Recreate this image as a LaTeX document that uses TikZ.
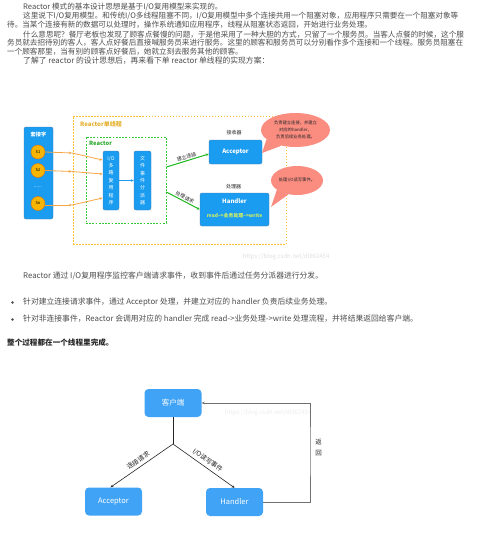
\documentclass[tikz,border=0pt]{standalone}
\usepackage{fontspec}
\setmainfont{Noto Sans CJK SC}
\usetikzlibrary{arrows.meta,shapes.geometric}

\definecolor{bodytext}{HTML}{4D4D4D}
\definecolor{boxblue}{HTML}{1A9CF0}
\definecolor{boxedge}{HTML}{4A7FAE}
\definecolor{sockorange}{HTML}{F7B500}
\definecolor{linkorange}{HTML}{F7A543}
\definecolor{frameorange}{HTML}{FFC233}
\definecolor{framegreen}{HTML}{33C633}
\definecolor{arrowgreen}{HTML}{1DB81D}
\definecolor{bubble}{HTML}{FA8C80}
\definecolor{lightblue}{HTML}{40A3F5}
\definecolor{readgreen}{HTML}{D2F064}
\definecolor{retgray}{HTML}{707070}

\begin{document}
\begin{tikzpicture}[x=1pt,y=-1pt,>={Stealth[length=3pt,width=2.6pt]},
	para/.style={anchor=west,inner sep=0pt,text=bodytext,font=\fontsize{7.6}{9}\selectfont},
	bigpara/.style={para,font=\fontsize{7.8}{9}\selectfont},
	listdot/.style={circle,fill=bodytext,minimum size=2.6pt,inner sep=0pt},
	diagbox/.style={draw=boxedge,fill=boxblue,rounded corners=2pt,text=white,inner sep=0pt},
	sockball/.style={circle,draw=orange!90!black,fill=sockorange,minimum size=14pt,inner sep=0pt,font=\fontsize{4}{4}\selectfont},
	orangelink/.style={->,linkorange,line width=0.8pt},
	greenlink/.style={->,arrowgreen,line width=1pt},
	tagtext/.style={inner sep=1pt,font=\fontsize{5}{6}\selectfont,text=black!85},
	talk/.style={ellipse,fill=bubble,inner sep=0pt,align=center,font=\fontsize{4.3}{7}\selectfont,text=black!85},
	flowbox/.style={fill=lightblue,rounded corners=4pt,text=white,inner sep=0pt,minimum width=57pt,minimum height=28pt,font=\fontsize{7.5}{8}\selectfont},
	flowlink/.style={->,black!85,line width=0.6pt},
	flowtext/.style={inner sep=3pt,font=\fontsize{6.5}{7}\selectfont,text=black!85}]
	\useasboundingbox[fill=white] (0,0) rectangle (500,533);

	% article text
	\node[para] (p1) at (23,7) {Reactor 模式的基本设计思想是基于I/O复用模型来实现的。};
	\node[para] (p2a) at (23,16) {这里说下I/O复用模型。和传统I/O多线程阻塞不同，I/O复用模型中多个连接共用一个阻塞对象，应用程序只需要在一个阻塞对象等};
	\node[para] (p2b) at (7,24.5) {待。当某个连接有新的数据可以处理时，操作系统通知应用程序，线程从阻塞状态返回，开始进行业务处理。};
	\node[para] (p3a) at (23,34.5) {什么意思呢？餐厅老板也发现了顾客点餐慢的问题，于是他采用了一种大胆的方式，只留了一个服务员。当客人点餐的时候，这个服};
	\node[para] (p3b) at (7,43) {务员就去招待别的客人，客人点好餐后直接喊服务员来进行服务。这里的顾客和服务员可以分别看作多个连接和一个线程。服务员阻塞在};
	\node[para] (p3c) at (7,52) {一个顾客那里，当有别的顾客点好餐后，她就立刻去服务其他的顾客。};
	\node[bigpara] (p4) at (23,61) {了解了 reactor 的设计思想后，再来看下单 reactor 单线程的实现方案：};

	% reactor single thread diagram
	\node[draw=frameorange,line width=1pt,dash pattern=on 1.5pt off 1.5pt,minimum width=213pt,minimum height=128pt,inner sep=0pt] (single) at (179.5,180) {};
	\node[anchor=west,inner sep=0pt,text=frameorange!90!black,font=\bfseries\fontsize{6}{6}\selectfont] (singletag) at (80,124) {Reactor单线程};
	\node[draw=framegreen,line width=0.9pt,dash pattern=on 1.8pt off 1.4pt,minimum width=80pt,minimum height=86pt,inner sep=0pt] (reactor) at (126,180) {};
	\node[anchor=west,inner sep=0pt,text=framegreen!85!black,font=\bfseries\fontsize{5.8}{6}\selectfont] (reactortag) at (89,143.5) {Reactor};

	\node[diagbox,minimum width=29pt,minimum height=92pt] (sock) at (38.5,173) {};
	\node[inner sep=0pt,text=white,font=\bfseries\fontsize{5.2}{6}\selectfont] (socktag) at (38.5,135) {套接字};
	\node[sockball] (s1) at (38,152) {S1};
	\node[sockball] (s2) at (38,170.5) {S2};
	\node[inner sep=0pt,text=white,font=\fontsize{5}{5}\selectfont] (sdots) at (38,187) {......};
	\node[sockball] (sn) at (38,203.5) {Sn};

	\node[diagbox,minimum width=16pt,minimum height=59pt,align=center,font=\fontsize{5}{7.4}\selectfont] (io) at (111,180.5) {I/O\\多\\路\\复\\用\\程\\序};
	\node[diagbox,minimum width=17pt,minimum height=59pt,align=center,font=\fontsize{5}{7.4}\selectfont] (disp) at (142.5,180.5) {文\\件\\事\\件\\分\\派\\器};

	\node[diagbox,minimum width=53pt,minimum height=24pt,font=\bfseries\fontsize{6}{6}\selectfont] (acc) at (235.5,152) {Acceptor};
	\node[tagtext] (acctag) at (234,132.5) {接收器};
	\node[diagbox,minimum width=69pt,minimum height=33pt] (hand) at (234.5,209.5) {};
	\node[tagtext] (handtag) at (233.5,187) {处理器};
	\node[inner sep=0pt,text=white,font=\bfseries\fontsize{6}{6}\selectfont] (handname) at (234.5,201.5) {Handler};
	\node[inner sep=0pt,text=readgreen,font=\bfseries\fontsize{4.9}{5}\selectfont] (handflow) at (234.5,215.5) {read-->业务处理-->write};

	\coordinate (m1) at (72,153);
	\coordinate (m2) at (72,171.5);
	\coordinate (mn) at (72,205);
	\coordinate (in1) at (102.5,160);
	\coordinate (in2) at (102.5,174);
	\coordinate (inn) at (102.5,198);
	\draw[orangelink] (s1.east) -- (m1);
	\draw[orangelink] (m1) -- (in1);
	\draw[orangelink] (s2.east) -- (m2);
	\draw[orangelink] (m2) -- (in2);
	\draw[orangelink] (sn.east) ++(0,1.5) -- (mn);
	\draw[orangelink] (mn) -- (inn);
	\draw[->,boxblue,line width=1pt] (io.east) -- (disp.west);

	\draw[greenlink] ([yshift=13pt]reactor.east) -- node[tagtext,above,sloped] {建立连接} ([yshift=-2pt]acc.west);
	\draw[greenlink] ([yshift=-12pt]reactor.east) -- node[tagtext,above,sloped] {处理请求} (hand.west);

	\node[talk,minimum width=69pt,minimum height=34pt] (bub1) at (295.5,130) {负责建立连接，并建立\\对应的handler，\\负责后续业务处理。};
	\fill[bubble] (bub1.198) -- (262,153) -- (bub1.228) -- cycle;
	\node[talk,minimum width=52pt,minimum height=29pt] (bub2) at (297,180.5) {处理I/O读写事件。};
	\fill[bubble] (bub2.205) -- (271,207) -- (bub2.238) -- cycle;

	\node[inner sep=0pt,text=black!12,font=\fontsize{6}{6}\selectfont] (mark1) at (286,257) {https://blog.csdn.net/dl962454};

	% description
	\node[bigpara] (p5) at (23,276) {Reactor 通过 I/O复用程序监控客户端请求事件，收到事件后通过任务分派器进行分发。};
	\node[listdot] (dot1) at (12.5,302.5) {};
	\node[bigpara] (b1) at (23,302) {针对建立连接请求事件，通过 Acceptor 处理，并建立对应的 handler 负责后续业务处理。};
	\node[listdot] (dot2) at (12.5,319.5) {};
	\node[bigpara] (b2) at (23,319) {针对非连接事件，Reactor 会调用对应的 handler 完成 read->业务处理->write 处理流程，并将结果返回给客户端。};
	\node[para,text=black!85,font=\bfseries\fontsize{7.6}{9}\selectfont] (p6) at (7,342.5) {整个过程都在一个线程里完成。};

	% single thread flow
	\node[flowbox] (client) at (173,403) {客户端};
	\node[flowbox] (acc2) at (113.5,501.5) {Acceptor};
	\node[flowbox] (hand2) at (234.5,502) {Handler};
	\node[inner sep=0pt,text=black!7,font=\fontsize{6}{6}\selectfont] (mark2) at (268,413) {https://blog.csdn.net/dl962454};
	\coordinate (fork) at (173,444);
	\coordinate (ret) at (310,450);
	\draw[black!85,line width=0.6pt] (client.south) -- (fork);
	\draw[flowlink] (fork) -- node[flowtext,above,sloped] {连接请求} ([xshift=-3pt]acc2.north);
	\draw[flowlink] (fork) -- node[flowtext,above,sloped] {I/O读写事件} (hand2.north);
	\draw[->,retgray,line width=0.9pt] (hand2.east) -| (ret) |- (client.east);
	\node[flowtext,align=center,font=\fontsize{6.5}{11}\selectfont] (rettag) at (318.5,447.5) {返\\回};
\end{tikzpicture}
\end{document}
